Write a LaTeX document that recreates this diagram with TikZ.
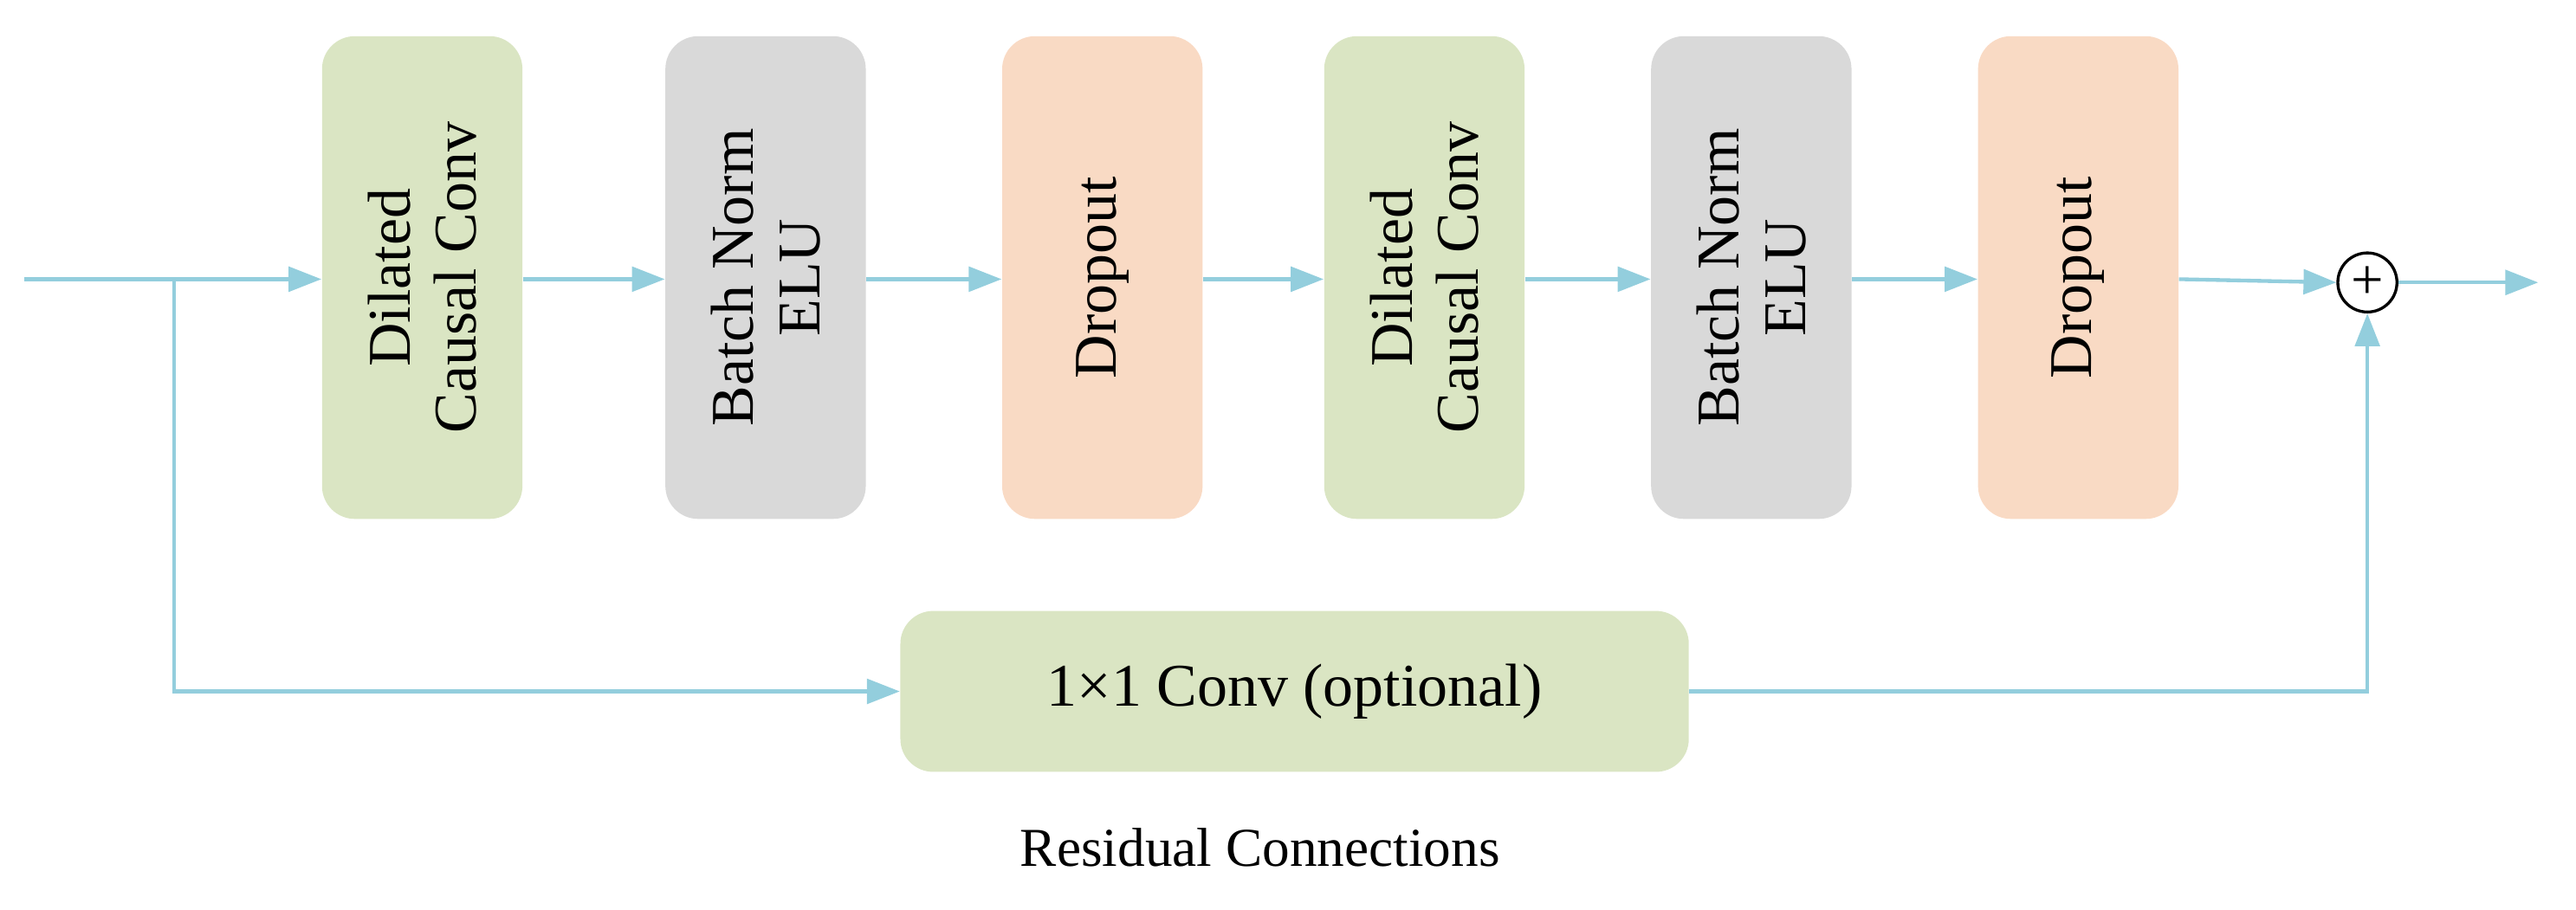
\documentclass[tikz,border=0pt]{standalone}
\usepackage{fontspec}
\setmainfont{Liberation Serif}
\usetikzlibrary{arrows.meta}
\definecolor{gr}{HTML}{DAE5C3}
\definecolor{gy}{HTML}{D9D9D9}
\definecolor{pe}{HTML}{F9DAC4}
\definecolor{ln}{HTML}{93CEDD}
\begin{document}
\begin{tikzpicture}[x=0.02cm,y=-0.02cm,
 box/.style={draw=none,rounded corners=0.4cm,minimum width=2.44cm,minimum height=5.88cm,inner sep=0pt},
 lbl/.style={rotate=90,align=center,font=\fontsize{21}{23}\selectfont},
 ar/.style={draw=ln,line width=1.3pt,-{Triangle[length=0.4cm,width=0.3cm]}},
 ln/.style={draw=ln,line width=1.3pt}]
\useasboundingbox (0,0) rectangle (1568,554);
\node[box,fill=gr] (b1) at (257,169) {};
\node[lbl] at (b1) {Dilated\\Causal Conv};
\node[box,fill=gy] (b2) at (466,169) {};
\node[lbl] at (b2) {Batch Norm\\ELU};
\node[box,fill=pe] (b3) at (671,169) {};
\node[lbl] at (b3) {Dropout};
\node[box,fill=gr] (b4) at (867,169) {};
\node[lbl] at (b4) {Dilated\\Causal Conv};
\node[box,fill=gy] (b5) at (1066,169) {};
\node[lbl] at (b5) {Batch Norm\\ELU};
\node[box,fill=pe] (b6) at (1265,169) {};
\node[lbl] at (b6) {Dropout};
\node[box,fill=gr,minimum width=9.6cm,minimum height=1.96cm] (c) at (788,421) {\fontsize{21}{23}\selectfont 1×1 Conv (optional)};
\node[draw,circle,line width=1pt,minimum size=0.72cm,inner sep=0pt,font=\fontsize{20}{20}\selectfont] (p) at (1441,172) {+};
\node[font=\fontsize{19}{21}\selectfont] (t) at (767,516) {Residual Connections};
\coordinate (in) at (15,170);
\coordinate (br) at (106,170);
\coordinate (out) at (1545,172);
\draw[ar] (in) -- (b1.west|-in);
\draw[ar] (b1.east|-in) -- (b2.west|-in);
\draw[ar] (b2.east|-in) -- (b3.west|-in);
\draw[ar] (b3.east|-in) -- (b4.west|-in);
\draw[ar] (b4.east|-in) -- (b5.west|-in);
\draw[ar] (b5.east|-in) -- (b6.west|-in);
\draw[ar] (b6.east|-in) -- (p.west);
\draw[ar] (p.east) -- (out);
\draw[ar] (br) |- (c.west);
\draw[ar] (c.east) -| (p.south);
\end{tikzpicture}
\end{document}
